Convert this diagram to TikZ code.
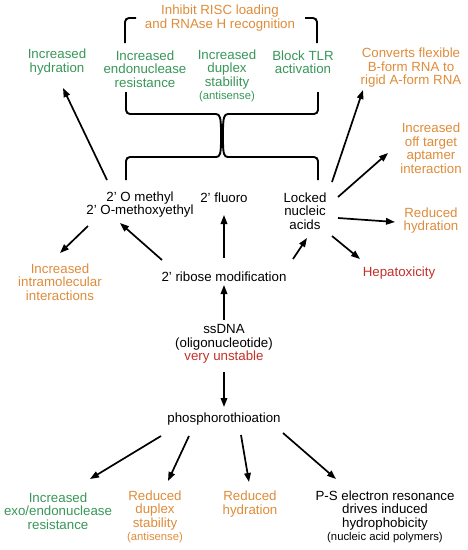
\documentclass[tikz,border=0pt]{standalone}
\usepackage{fontspec}
\setmainfont{Liberation Sans}
\usetikzlibrary{arrows.meta}
\definecolor{effgreen}{RGB}{56,150,88}
\definecolor{efforange}{RGB}{222,140,58}
\definecolor{effred}{RGB}{196,48,40}
\newcommand{\subnote}[1]{{\fontsize{11.3}{13}\selectfont #1}}

\begin{document}
\begin{tikzpicture}[x=1pt,y=-1pt,
  lab/.style={align=center,inner sep=0pt,font=\fontsize{13.3}{13.5}\selectfont},
  good/.style={lab,text=effgreen},
  warn/.style={lab,text=efforange},
  bad/.style={lab,text=effred},
  arr/.style={-{Triangle[length=9pt,width=6.5pt]},line width=1.7pt},
  brace/.style={line width=1.9pt,rounded corners=4pt}
]
\useasboundingbox (0,0) rectangle (467,550);
\node[warn] (inhibit) at (220,18) {Inhibit RISC loading\\and RNAse H recognition};
\node[good] (hydrup) at (57,62) {Increased\\hydration};
\node[good] (endo) at (145,69) {Increased\\endonuclease\\resistance};
\node[good] (duplexup) at (227,76) {Increased\\duplex\\stability\\\subnote{(antisense)}};
\node[good] (tlr) at (303,62) {Block TLR\\activation};
\node[warn] (aform) at (411,68) {Converts flexible\\B-form RNA to\\rigid A-form RNA};
\node[warn] (offtarget) at (431,148) {Increased\\off target\\aptamer\\interaction};
\node[lab] (omethyl) at (140,204.5) {2' O methyl\\2' O-methoxyethyl};
\node[lab] (fluoro) at (224,198) {2' fluoro};
\node[lab] (lna) at (305,211) {Locked\\nucleic\\acids};
\node[warn] (lnahydr) at (431,220.5) {Reduced\\hydration};
\node[bad] (hepato) at (399,273) {Hepatoxicity};
\node[warn] (intra) at (60,282) {Increased\\intramolecular\\interactions};
\node[lab] (ribose) at (224,277) {2' ribose modification};
\node[lab] (ssdna) at (224,344) {ssDNA\\(oligonucleotide)\\\textcolor{effred}{very unstable}};
\node[lab] (pto) at (224,419) {phosphorothioation};
\node[good] (exo) at (58,511) {Increased\\exo/endonuclease\\resistance};
\node[warn] (duplexdown) at (155,517) {Reduced\\duplex\\stability\\\subnote{(antisense)}};
\node[warn] (ptohydr) at (250,504) {Reduced\\hydration};
\node[lab] (resonance) at (385,517) {P-S electron resonance\\drives induced\\hydrophobicity\\\subnote{(nucleic acid polymers)}};
\draw[brace] (125,43) -- (125,18) -- (136,18);
\draw[brace] (305,18) -- (317,18) -- (317,43);
\draw[brace] (126,92) -- (126,114) -- (212,114) .. controls (220,114) and (221,118) .. (221,136)
  .. controls (221,154) and (220,157) .. (212,157) -- (126,157) -- (126,180);
\draw[brace] (318,92) -- (318,114) -- (232,114) .. controls (224,114) and (223,118) .. (223,136)
  .. controls (223,154) and (224,157) .. (232,157) -- (318,157) -- (318,180);
\draw[arr] ([shift={(-33,-24.5)}]omethyl.center) -- ([shift={(6,26)}]hydrup.center);
\draw[arr] ([shift={(-52,21.5)}]omethyl.center) -- ([shift={(0,-29)}]intra.center);
\draw[arr] ([shift={(-62,-17)}]ribose.center) -- ([shift={(-20,18.5)}]omethyl.center);
\draw[arr] ([shift={(0,-19)}]ribose.center) -- ([shift={(0,17)}]fluoro.center);
\draw[arr] ([shift={(69,-18)}]ribose.center) -- ([shift={(2,27)}]lna.center);
\draw[arr] ([shift={(27,-29)}]lna.center) -- ([shift={(-48,22)}]aform.center);
\draw[arr] ([shift={(33,-14)}]lna.center) -- ([shift={(-43,5)}]offtarget.center);
\draw[arr] ([shift={(33,7)}]lna.center) -- ([shift={(-36,1.5)}]lnahydr.center);
\draw[arr] ([shift={(27,25)}]lna.center) -- ([shift={(-39,-14)}]hepato.center);
\draw[arr] ([shift={(0,-24)}]ssdna.center) -- ([shift={(0,8)}]ribose.center);
\draw[arr] ([shift={(0,28)}]ssdna.center) -- ([shift={(0,-12)}]pto.center);
\draw[arr] ([shift={(-63,17)}]pto.center) -- ([shift={(32,-32)}]exo.center);
\draw[arr] ([shift={(-35,17)}]pto.center) -- ([shift={(13,-36)}]duplexdown.center);
\draw[arr] ([shift={(17,16)}]pto.center) -- ([shift={(-1,-22)}]ptohydr.center);
\draw[arr] ([shift={(59,14)}]pto.center) -- ([shift={(-49,-38)}]resonance.center);
\end{tikzpicture}
\end{document}
